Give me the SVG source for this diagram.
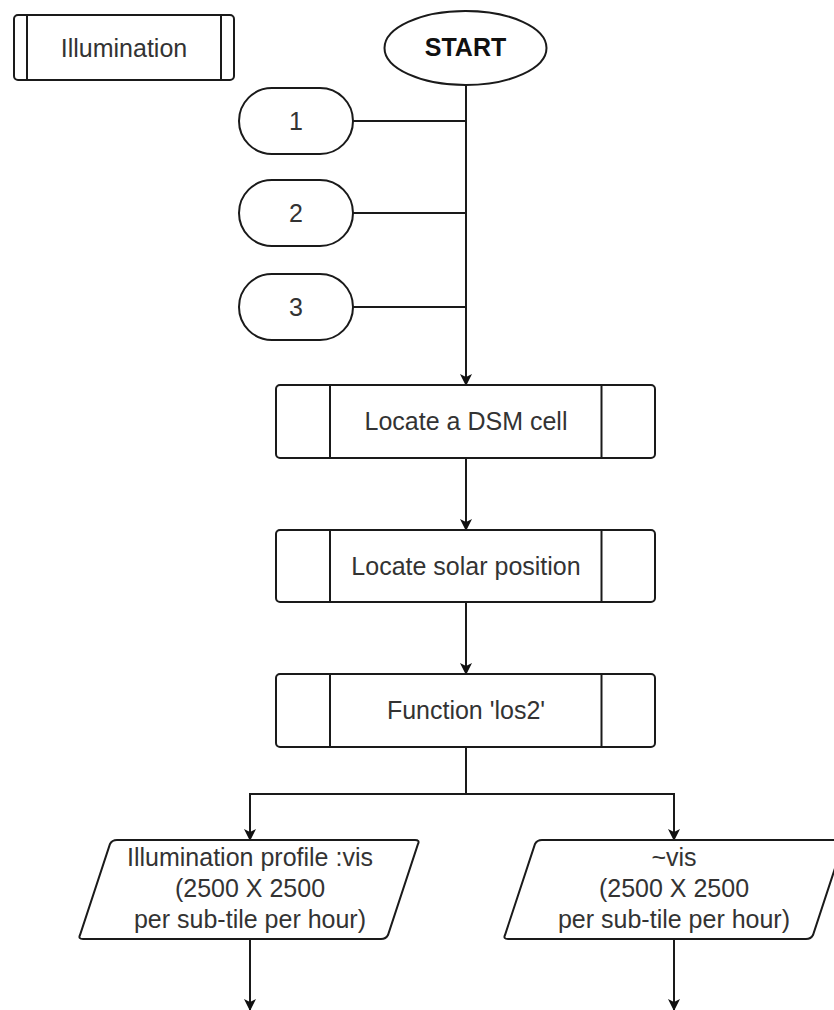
<svg xmlns="http://www.w3.org/2000/svg" width="834" height="1010" viewBox="0 0 834 1010">
  <style>
    .shape { fill: #ffffff; stroke: #1a1a1a; stroke-width: 2; }
    .div { fill: none; stroke: #1a1a1a; stroke-width: 2; }
    .edge { fill: none; stroke: #1a1a1a; stroke-width: 2; }
    text { font-family: "Liberation Sans", Arial, sans-serif; font-size: 25px; fill: #333333; text-anchor: middle; }
    .bold { font-weight: bold; fill: #111111; }
  </style>
  <defs>
    <marker id="arrow" viewBox="0 0 12 12" refX="11" refY="6" markerWidth="12" markerHeight="12" markerUnits="userSpaceOnUse" orient="auto">
      <path d="M0,0 L12,6 L0,12 L3,6 Z" fill="#111111"/>
    </marker>
  </defs>

  <rect width="834" height="1010" fill="#ffffff"/>

  <!-- Title block -->
  <g id="illumination">
    <rect class="shape" x="14" y="15" width="220" height="65" rx="4"/>
    <line class="div" x1="27" y1="15" x2="27" y2="80"/>
    <line class="div" x1="221" y1="15" x2="221" y2="80"/>
    <text x="124" y="57">Illumination</text>
  </g>

  <!-- Connectors -->
  <g id="connectors">
    <line class="edge" x1="466" y1="85" x2="466" y2="385" marker-end="url(#arrow)"/>
    <line class="edge" x1="353" y1="121" x2="466" y2="121"/>
    <line class="edge" x1="353" y1="213" x2="466" y2="213"/>
    <line class="edge" x1="353" y1="307" x2="466" y2="307"/>
    <line class="edge" x1="466" y1="458" x2="466" y2="530" marker-end="url(#arrow)"/>
    <line class="edge" x1="466" y1="602" x2="466" y2="674" marker-end="url(#arrow)"/>
    <polyline class="edge" points="466,747 466,794 250,794 250,840" marker-end="url(#arrow)"/>
    <polyline class="edge" points="466,794 674,794 674,840" marker-end="url(#arrow)"/>
    <line class="edge" x1="250" y1="939" x2="250" y2="1010" marker-end="url(#arrow)"/>
    <line class="edge" x1="674" y1="939" x2="674" y2="1010" marker-end="url(#arrow)"/>
  </g>

  <!-- Start terminator -->
  <g id="start">
    <ellipse class="shape" cx="465.5" cy="48" rx="81" ry="37"/>
    <text class="bold" x="465.5" y="56">START</text>
  </g>

  <!-- Entry points -->
  <g id="entry1">
    <rect class="shape" x="239" y="88" width="114" height="66" rx="33"/>
    <text x="296" y="130">1</text>
  </g>
  <g id="entry2">
    <rect class="shape" x="239" y="180" width="114" height="66" rx="33"/>
    <text x="296" y="222">2</text>
  </g>
  <g id="entry3">
    <rect class="shape" x="239" y="274" width="114" height="66" rx="33"/>
    <text x="296" y="316">3</text>
  </g>

  <!-- Predefined processes -->
  <g id="locate-dsm">
    <rect class="shape" x="276" y="385" width="379" height="73" rx="4"/>
    <line class="div" x1="330" y1="385" x2="330" y2="458"/>
    <line class="div" x1="601.5" y1="385" x2="601.5" y2="458"/>
    <text x="466" y="430">Locate a DSM cell</text>
  </g>
  <g id="locate-solar">
    <rect class="shape" x="276" y="530" width="379" height="72" rx="4"/>
    <line class="div" x1="330" y1="530" x2="330" y2="602"/>
    <line class="div" x1="601.5" y1="530" x2="601.5" y2="602"/>
    <text x="466" y="575">Locate solar position</text>
  </g>
  <g id="function-los2">
    <rect class="shape" x="276" y="674" width="379" height="73" rx="4"/>
    <line class="div" x1="330" y1="674" x2="330" y2="747"/>
    <line class="div" x1="601.5" y1="674" x2="601.5" y2="747"/>
    <text x="466" y="719">Function 'los2'</text>
  </g>

  <!-- Data outputs -->
  <g id="vis">
    <path class="shape" d="M117,840 L415,840 Q420,840 418,844 L388,935 Q386,939 381,939 L83,939 Q78,939 80,935 L110,844 Q112,840 117,840 Z"/>
    <text x="250" y="866">Illumination profile :vis</text>
    <text x="250" y="897">(2500 X 2500</text>
    <text x="250" y="928">per sub-tile per hour)</text>
  </g>
  <g id="not-vis">
    <path class="shape" d="M542,840 L840,840 Q845,840 843,844 L813,935 Q811,939 806,939 L508,939 Q503,939 505,935 L535,844 Q537,840 542,840 Z"/>
    <text x="674" y="866">~vis</text>
    <text x="674" y="897">(2500 X 2500</text>
    <text x="674" y="928">per sub-tile per hour)</text>
  </g>
</svg>
